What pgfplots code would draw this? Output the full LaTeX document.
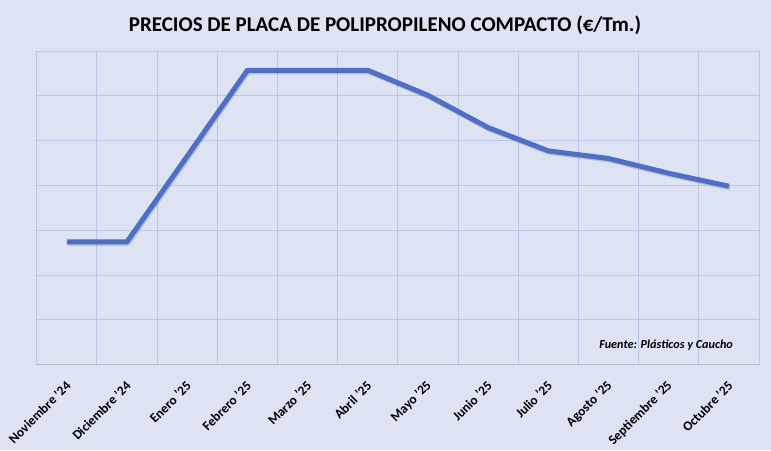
\documentclass[border=0pt]{standalone}
\usepackage{pgfplots}
\pgfplotsset{compat=1.18}
\usepackage{fontspec}
\setmainfont{Carlito}
\definecolor{bg}{HTML}{DDE3F3}
\definecolor{gridc}{HTML}{B6C7E8}
\definecolor{lineb}{HTML}{4F6EC6}
\begin{document}
\begin{tikzpicture}
\fill[bg] (0,0) rectangle (771pt,450pt);
\node[font=\fontsize{21}{24}\selectfont\bfseries] at (385pt,425pt) {PRECIOS DE PLACA DE POLIPROPILENO COMPACTO (€/Tm.)};
\begin{axis}[
  at={(36.7pt,85.5pt)}, anchor=south west,
  scale only axis, width=722.3pt, height=313.5pt,
  xmin=-0.5, xmax=11.5, ymin=0, ymax=7,
  xtick={0,...,11},
  xticklabels={Noviembre '24,Diciembre '24,Enero '25,Febrero '25,Marzo '25,Abril '25,Mayo '25,Junio '25,Julio '25,Agosto '25,Septiembre '25,Octubre '25},
  x tick label style={xshift=1.5pt, yshift=-19pt, rotate=45, anchor=east, font=\fontsize{13.3}{15}\selectfont\bfseries, inner sep=0pt},
  minor xtick={-0.5,0.5,...,11.5},
  ytick={0,...,7}, yticklabels={},
  xmajorgrids=false, xminorgrids=true, ymajorgrids=true,
  grid style={gridc, line width=0.8pt},
  minor grid style={gridc, line width=0.8pt},
  major tick length=0pt, minor tick length=0pt,
  axis line style={draw=none},
  axis background/.style={fill=bg},
  clip=false,
]
\draw[draw=gray!40!bg, line width=1pt] (axis cs:-0.5,0) -- (axis cs:11.5,0);
\addplot[draw=black, opacity=0.15, line width=5pt, line join=round, xshift=1pt, yshift=-1.5pt] coordinates {
(0,2.74) (1,2.74) (2,4.65) (3,6.57) (4,6.57) (5,6.57) (6,6.01) (7,5.29) (8,4.77) (9,4.60) (10,4.27) (11,3.98)};
\addplot[draw=lineb, line width=5pt, line join=round] coordinates {
(0,2.74) (1,2.74) (2,4.65) (3,6.57) (4,6.57) (5,6.57) (6,6.01) (7,5.29) (8,4.77) (9,4.60) (10,4.27) (11,3.98)};
\node[anchor=east, font=\fontsize{12.2}{14}\selectfont\bfseries\itshape, inner sep=0pt] at (axis cs:11.07,0.435) {Fuente: Plásticos y Caucho};
\end{axis}
\pgfresetboundingbox
\useasboundingbox (0,0) rectangle (771pt,450pt);
\end{tikzpicture}
\end{document}
